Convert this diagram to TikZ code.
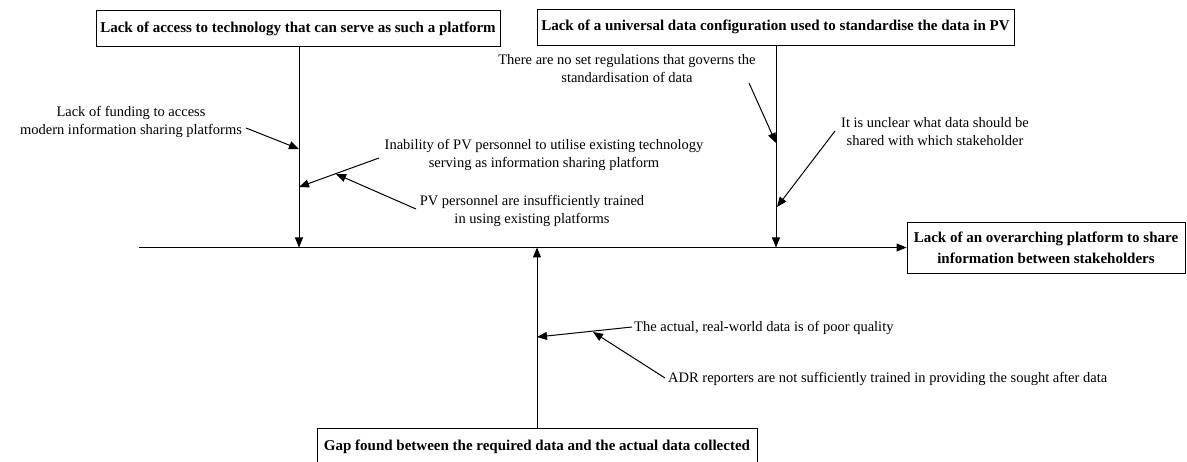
\documentclass[tikz,border=0pt]{standalone}
\usepackage{fontspec}
\setmainfont{Liberation Serif}
\usetikzlibrary{arrows.meta}
\begin{document}
\begin{tikzpicture}[x=1pt,y=-1pt,
  cause/.style={draw, line width=0.9pt, font=\bfseries\fontsize{15}{21}\selectfont,
                inner sep=0pt, minimum height=36pt},
  note/.style={font=\fontsize{14.5}{18}\selectfont, align=center, inner sep=0pt},
  arr/.style={line width=1pt, -{Triangle[length=10pt,width=8pt]}},
]
\useasboundingbox (0,0) rectangle (1187,462);

% main categories and effect
\node[cause, minimum width=404pt] (b1) at (298,28.5)
  {Lack of access to technology that can serve as such a platform};
\node[cause, minimum width=477pt] (b2) at (775.5,27)
  {Lack of a universal data configuration used to standardise the data in PV};
\node[cause, minimum width=278pt, minimum height=51pt, align=center] (eff) at (1046,247.5)
  {Lack of an overarching platform to share\\information between stakeholders};
\node[cause, minimum width=440pt, minimum height=37pt] (b4) at (537,446.5)
  {Gap found between the required data and the actual data collected};

% spine and branches
\coordinate (tail) at (139,247.5);
\coordinate (j1) at (299,247.5);
\coordinate (j2) at (776,247.5);
\coordinate (j3) at (537,247.5);
\draw[arr] (tail) -- (eff.west);
\draw[arr] (b1.south -| j1) -- (j1);
\draw[arr] (b2.south -| j2) -- (j2);
\draw[arr] (b4.north -| j3) -- (j3);

% sub-causes
\node[note] (fund) at (131,122) {Lack of funding to access\\modern information sharing platforms};
\node[note] (inab) at (544,155) {Inability of PV personnel to utilise existing technology\\serving as information sharing platform};
\node[note] (trn) at (532,211) {PV personnel are insufficiently trained\\in using existing platforms};
\node[note] (regs) at (627,69) {There are no set regulations that governs the\\standardisation of data};
\node[note] (uncl) at (935,132) {It is unclear what data should be\\shared with which stakeholder};
\node[note, anchor=west] (qual) at (634,328) {The actual, real-world data is of poor quality};
\node[note, anchor=west] (adr) at (668,379) {ADR reporters are not sufficiently trained in providing the sought after data};

\coordinate (fs) at (246,128);  \coordinate (ft) at (299,149);
\coordinate (is) at (379,158);  \coordinate (it) at (299,187);
\coordinate (ts) at (416,209);  \coordinate (tt) at (336,174);
\coordinate (rs) at (749,83);   \coordinate (rt) at (776,143);
\coordinate (us) at (835,131);  \coordinate (ut) at (777,207);
\coordinate (qs) at (632,327);  \coordinate (qt) at (537,337);
\coordinate (as) at (665,378);  \coordinate (at) at (593,332);

\draw[arr] (fs) -- (ft);
\draw[arr] (is) -- (it);
\draw[arr] (ts) -- (tt);
\draw[arr] (rs) -- (rt);
\draw[arr] (us) -- (ut);
\draw[arr] (qs) -- (qt);
\draw[arr] (as) -- (at);
\end{tikzpicture}
\end{document}
